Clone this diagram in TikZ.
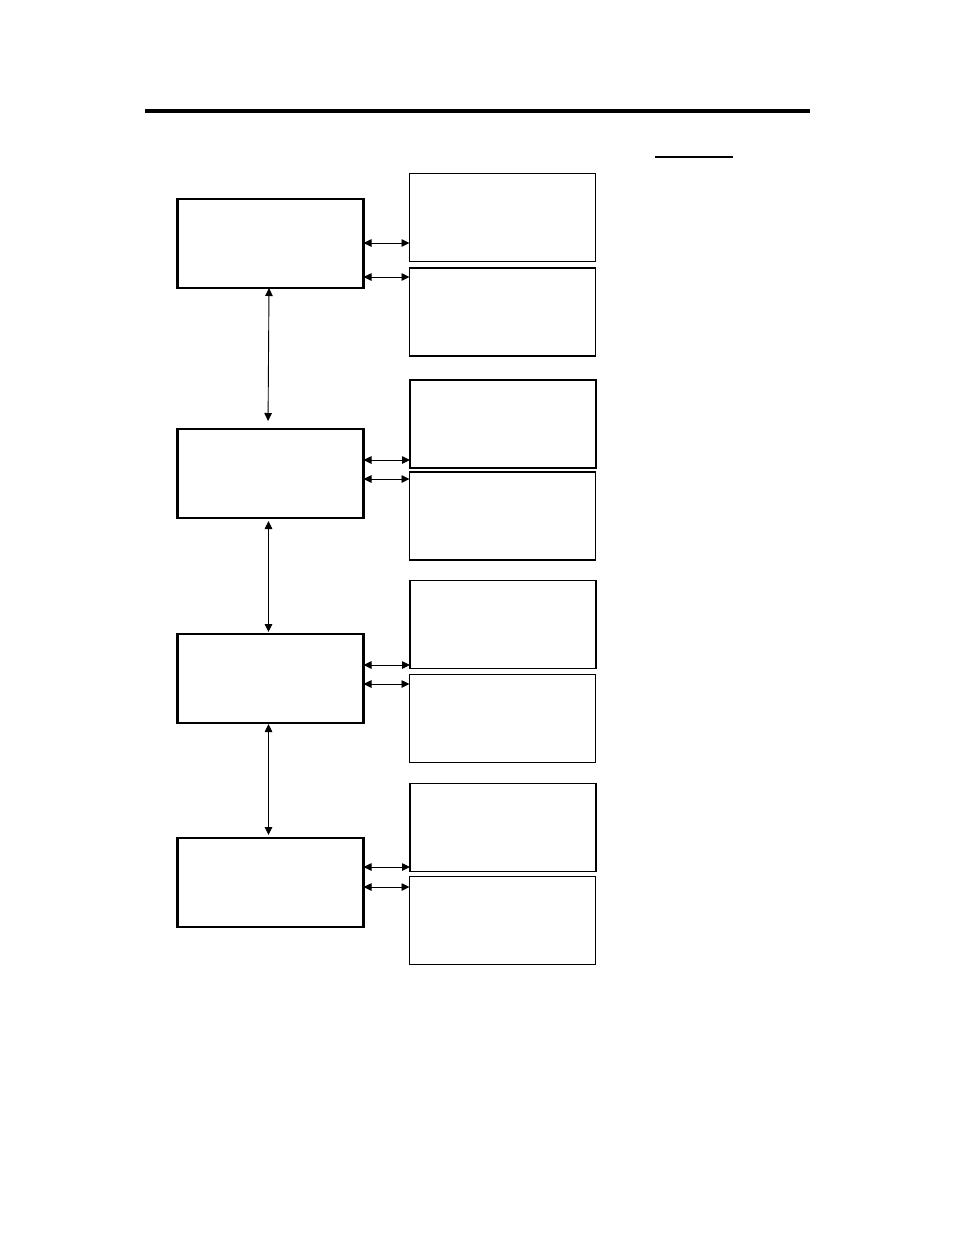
\documentclass[tikz,border=0pt]{standalone}
\usetikzlibrary{arrows.meta,calc}
\begin{document}
\begin{tikzpicture}[x=1pt,y=-1pt,
  mainbox/.style={draw,line width=2.6pt,minimum width=186pt,minimum height=89pt,inner sep=0pt,outer sep=0pt},
  sidebox/.style={draw,line width=1.1pt,minimum width=186pt,minimum height=88pt,inner sep=0pt,outer sep=0pt},
  harr/.style={line width=0.9pt,{Triangle[length=8pt,width=7.5pt]}-{Triangle[length=8pt,width=7.5pt]}},
  varr/.style={line width=0.9pt,{Triangle[length=8pt,width=7.5pt]}-{Triangle[length=8pt,width=7.5pt]}}]
\useasboundingbox[fill=white] (0,0) rectangle (954,1235);
% header rule and underline
\draw[line width=3.8pt] (145,110.8) coordinate (r0) -- (810,110.8) coordinate (r1);
\draw[line width=2pt] (655,157) coordinate (u0) -- (733,157) coordinate (u1);
% main boxes
\node[mainbox] (L1) at (270.5,243.5) {};
\node[mainbox] (L2) at (270.5,473.5) {};
\node[mainbox] (L3) at (270.5,678.5) {};
\node[mainbox] (L4) at (270.5,882.5) {};
% side boxes
\node[sidebox] (R1a) at (502.5,217.5) {};
\node[sidebox] (R1b) at (502.5,312) {};
\node[sidebox] (R2a) at (503,424) {};
\node[sidebox] (R2b) at (502.5,516) {};
\node[sidebox] (R3a) at (503,624.5) {};
\node[sidebox] (R3b) at (502.5,718.5) {};
\node[sidebox] (R4a) at (503,827.5) {};
\node[sidebox] (R4b) at (502.5,920.5) {};
% vertical connectors
\draw[varr,shorten >=8pt] ([xshift=-1.5pt]L1.south) -- ([xshift=-2.5pt]L2.north);
\draw[varr,shorten <=3pt,shorten >=2pt] ([xshift=-2pt]L2.south) -- ([xshift=-2pt]L3.north);
\draw[varr,shorten <=1pt,shorten >=3pt] ([xshift=-2pt]L3.south) -- ([xshift=-2pt]L4.north);
% horizontal connectors
\draw[harr] ($(L1.north east)+(0,44)$) coordinate (h1) -- (h1 -| R1a.west);
\draw[harr] ($(L1.north east)+(0,78)$) coordinate (h2) -- (h2 -| R1b.west);
\draw[harr] ($(L2.north east)+(0,31)$) coordinate (h3) -- (h3 -| R2a.west);
\draw[harr] ($(L2.north east)+(0,50)$) coordinate (h4) -- (h4 -| R2b.west);
\draw[harr] ($(L3.north east)+(0,31)$) coordinate (h5) -- (h5 -| R3a.west);
\draw[harr] ($(L3.north east)+(0,50)$) coordinate (h6) -- (h6 -| R3b.west);
\draw[harr] ($(L4.north east)+(0,29)$) coordinate (h7) -- (h7 -| R4a.west);
\draw[harr] ($(L4.north east)+(0,49)$) coordinate (h8) -- (h8 -| R4b.west);
\end{tikzpicture}
\end{document}
